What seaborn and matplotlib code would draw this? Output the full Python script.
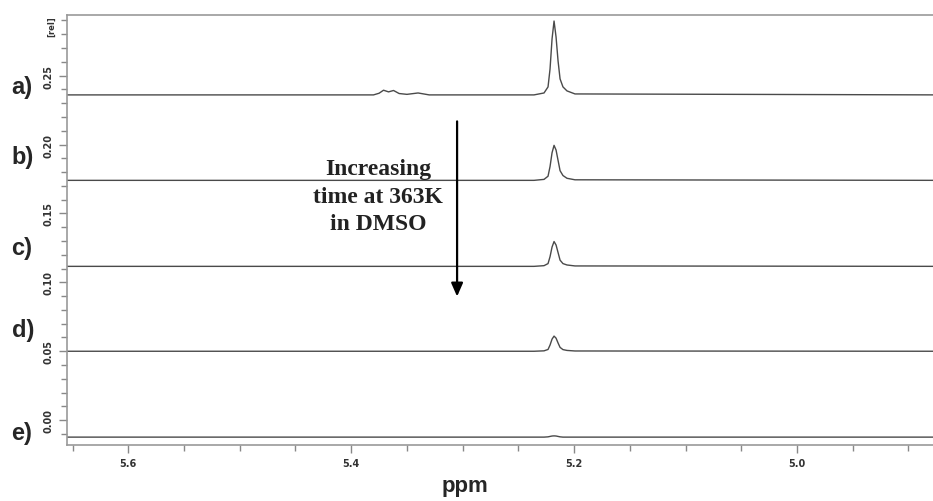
import matplotlib
matplotlib.use("Agg")
import matplotlib.pyplot as plt
import seaborn as sns
import pandas as pd
from matplotlib.ticker import MultipleLocator, FormatStrFormatter

# shared chemical shift grid (ppm) where the traces were read
ppm = [5.66, 5.38, 5.375, 5.371, 5.3665, 5.362, 5.357, 5.35, 5.34, 5.33,
       5.236, 5.227, 5.2234, 5.2216, 5.2198, 5.218, 5.2162, 5.2144, 5.2126,
       5.210, 5.2064, 5.1992, 4.87]

labels = ["a)", "b)", "c)", "d)", "e)"]
baselines = [0.236, 0.174, 0.1116, 0.050, -0.0123]

# intensity above each baseline
sig_a = [0, 0, 0.0012, 0.0034, 0.0022, 0.0032, 0.0010, 0.0004, 0.0014, 0,
         0, 0.0014, 0.0058, 0.0188, 0.0406, 0.0536, 0.0420, 0.0246, 0.0116,
         0.0058, 0.0029, 0.0007, 0]
sig_b = [0, 0, 0, 0, 0, 0, 0, 0, 0, 0,
         0, 0.0007, 0.0030, 0.0100, 0.0200, 0.0254, 0.0220, 0.0145, 0.0070,
         0.0035, 0.0015, 0.0004, 0]
sig_c = [0, 0, 0, 0, 0, 0, 0, 0, 0, 0,
         0, 0.0005, 0.0020, 0.0070, 0.0140, 0.0180, 0.0155, 0.0100, 0.0045,
         0.0020, 0.0010, 0.0003, 0]
sig_d = [0, 0, 0, 0, 0, 0, 0, 0, 0, 0,
         0, 0.0003, 0.0013, 0.0045, 0.0088, 0.0110, 0.0095, 0.0060, 0.0028,
         0.0012, 0.0006, 0.0002, 0]
sig_e = [0, 0, 0, 0, 0, 0, 0, 0, 0, 0,
         0, 0, 0.0002, 0.0005, 0.0008, 0.0009, 0.0008, 0.0005, 0.0002,
         0, 0, 0, 0]
signals = [sig_a, sig_b, sig_c, sig_d, sig_e]
label_y = [0.242, 0.1913, 0.1254, 0.066, -0.0087]

sns.set_style("ticks")
fig = plt.figure(figsize=(9.33, 5.02), dpi=100)
ax = fig.add_axes([0.0718, 0.1116, 0.9282, 0.8566])

for lab, base, sig in zip(labels, baselines, signals):
    df = pd.DataFrame({"ppm": ppm, "y": [base + s for s in sig]})
    sns.lineplot(data=df, x="ppm", y="y", ax=ax, color="#4a4a4a",
                 linewidth=1.0, sort=False)

ax.set_xlim(5.655, 4.878)
ax.set_ylim(-0.018, 0.294)

ax.xaxis.set_major_locator(MultipleLocator(0.2))
ax.xaxis.set_minor_locator(MultipleLocator(0.05))
ax.xaxis.set_major_formatter(FormatStrFormatter("%.1f"))
ax.yaxis.set_major_locator(MultipleLocator(0.05))
ax.yaxis.set_minor_locator(MultipleLocator(0.01))
ax.yaxis.set_major_formatter(FormatStrFormatter("%.2f"))

ax.tick_params(axis="both", which="both", colors="#888888", width=1.0,
               labelcolor="#333333", labelsize=7)
ax.tick_params(axis="both", which="major", length=6)
ax.tick_params(axis="both", which="minor", length=4)
ax.tick_params(axis="y", pad=4)
for t in ax.get_xticklabels():
    t.set_fontweight("bold")
for t in ax.get_yticklabels():
    t.set_fontweight("bold")
    t.set_rotation(90)
    t.set_va("center")

for side in ["left", "bottom", "top"]:
    ax.spines[side].set_color("#999999")
    ax.spines[side].set_linewidth(1.2)
ax.spines["right"].set_visible(False)
ax.set_xlabel("")
ax.set_ylabel("")

fig.text(52 / 933, 1 - 27 / 502, "[rel]", rotation=90, fontsize=6,
         fontweight="bold", ha="center", va="center", color="#333333")

for lab, ly in zip(labels, label_y):
    ax.text(-0.064, ly, lab, transform=ax.get_yaxis_transform(),
            fontsize=17, fontweight="bold", ha="left", va="center",
            family="Liberation Sans")

fig.text(465 / 933, 1 - 487 / 502, "ppm", fontsize=16, fontweight="bold",
         ha="center", va="center", family="Liberation Sans")

ax.annotate("", xy=(5.305, 0.0877), xytext=(5.305, 0.2188),
            arrowprops=dict(arrowstyle="-|>,head_length=0.8,head_width=0.35",
                            color="black", lw=1.6))
ax.text(5.376, 0.1625, "Increasing\ntime at 363K\nin DMSO", fontsize=17,
        fontweight="bold", family="Liberation Serif", ha="center",
        va="center", linespacing=1.4, color="#222222")

fig.savefig("out.png", dpi=100)
